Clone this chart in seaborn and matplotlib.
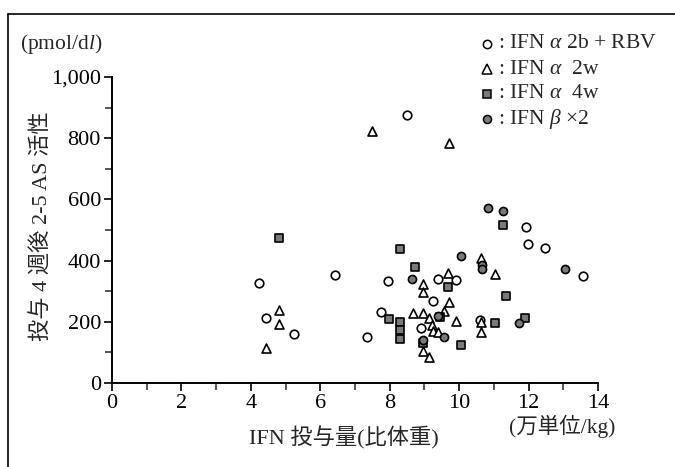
import matplotlib
matplotlib.use("Agg")
import matplotlib.pyplot as plt
import seaborn as sns
import pandas as pd
from matplotlib.lines import Line2D
from matplotlib.ticker import MultipleLocator, FuncFormatter

# ---- data ----
rbv_x = [4.24, 4.44, 5.24, 6.43, 7.36, 7.74, 7.96, 8.49, 8.90, 9.24, 9.40, 9.91, 10.61, 11.93, 11.98, 12.48, 13.58]
rbv_y = [327, 212, 160, 353, 149, 232, 333, 876, 179, 269, 340, 337, 205, 509, 454, 442, 351]

a2w_x = [4.44, 4.81, 4.81, 7.50, 8.66, 8.95, 8.95, 8.95, 8.95, 9.12, 9.14, 9.21, 9.24, 9.40, 9.57,
         9.69, 9.70, 9.72, 9.90, 10.62, 10.62, 10.62, 11.02]
a2w_y = [114, 239, 193, 824, 230, 324, 298, 230, 106, 84, 211, 190, 171, 168, 236,
         358, 785, 266, 204, 410, 198, 168, 357]

a4w_x = [4.81, 7.99, 8.29, 8.30, 8.30, 8.30, 8.73, 8.97, 9.45, 9.69, 10.05, 11.04, 11.25, 11.35, 11.90]
a4w_y = [474, 208, 437, 200, 173, 144, 378, 132, 215, 315, 124, 197, 516, 285, 213]

b2_x = [8.64, 8.97, 9.40, 9.57, 10.04, 10.65, 10.65, 10.82, 11.25, 11.73, 13.05]
b2_y = [339, 140, 219, 151, 416, 386, 373, 571, 563, 197, 371]

legend_labels = [r" : IFN $\mathit{α}$ 2b + RBV", r" : IFN $\mathit{α}$  2w",
                 r" : IFN $\mathit{α}$  4w", r" : IFN $\mathit{β}$ ×2"]
x_ticks = [0, 2, 4, 6, 8, 10, 12, 14]
y_ticks = [0, 200, 400, 600, 800, 1000]

sns.set_theme(style="white")
plt.rcParams["font.family"] = ["Liberation Serif", "Noto Sans CJK JP", "DejaVu Sans"]
plt.rcParams["mathtext.fontset"] = "custom"
plt.rcParams["mathtext.rm"] = "Liberation Serif"
plt.rcParams["mathtext.it"] = "Liberation Serif:italic"

fig = plt.figure(figsize=(6.75, 4.67), dpi=100)
fig.patch.set_facecolor("white")
ax = fig.add_axes([112 / 675, 1 - 383 / 467, 486 / 675, 306 / 467])

series = [
    (rbv_x, rbv_y, "o", "white", 38),
    (a2w_x, a2w_y, "^", "white", 42),
    (a4w_x, a4w_y, "s", "#7a7a7a", 30),
    (b2_x, b2_y, "o", "#7a7a7a", 34),
]
for xs, ys, mk, fc, s in series:
    df = pd.DataFrame({"x": xs, "y": ys})
    sns.scatterplot(data=df, x="x", y="y", marker=mk, s=s, color=fc,
                    edgecolor="black", linewidth=1.2, ax=ax, zorder=3, clip_on=False)

ax.set_xlim(0, 14)
ax.set_ylim(0, 1000)
ax.set_xticks(x_ticks)
ax.set_yticks(y_ticks)
ax.xaxis.set_minor_locator(MultipleLocator(1))
ax.yaxis.set_minor_locator(MultipleLocator(100))
ax.yaxis.set_major_formatter(FuncFormatter(lambda v, p: f"{int(v):,}"))
ax.tick_params(axis="both", which="major", direction="out", length=6, width=1.2,
               labelsize=16, colors="black", pad=2, left=True, bottom=True)
ax.tick_params(axis="both", which="minor", direction="out", length=5, width=1.1,
               left=True, bottom=True)
ax.set_xlabel("")
ax.set_ylabel("")
for side in ["top", "right"]:
    ax.spines[side].set_visible(False)
for side in ["left", "bottom"]:
    ax.spines[side].set_color("black")
    ax.spines[side].set_linewidth(1.4)
ax.set_facecolor("white")

# axis titles
fig.text(20 / 675, 1 - 44 / 467, r"(pmol/d$\it{l}$)", fontsize=15.5, va="center", ha="left")
fig.text(42 / 675, 1 - 226 / 467, "投与 4 週後 2-5 AS 活性", fontsize=16, rotation=90,
         va="center", ha="center")
fig.text(344 / 675, 1 - 438 / 467, "IFN 投与量(比体重)", fontsize=16, va="center", ha="center")
fig.text(562 / 675, 1 - 426 / 467, "(万単位/kg)", fontsize=15.5, va="center", ha="center")

# legend drawn manually
leg_y = [44, 69, 94, 119]
leg_style = [("o", "white", 6.0), ("^", "white", 6.5), ("s", "#7a7a7a", 5.2), ("o", "#7a7a7a", 5.8)]
for yy, lab, (mk, fc, ms) in zip(leg_y, legend_labels, leg_style):
    fig.add_artist(Line2D([487 / 675], [1 - yy / 467], marker=mk, markersize=ms,
                          markerfacecolor=fc, markeredgecolor="black", markeredgewidth=1.1,
                          linestyle="none", transform=fig.transFigure))
    fig.text(493 / 675, 1 - yy / 467, lab, fontsize=15.5, va="center", ha="left")

# frame lines (top and left)
fig.add_artist(Line2D([8 / 675, 1.0], [1 - 14 / 467, 1 - 14 / 467], color="black",
                      linewidth=1.2, transform=fig.transFigure))
fig.add_artist(Line2D([8 / 675, 8 / 675], [0, 1 - 14 / 467], color="black",
                      linewidth=1.2, transform=fig.transFigure))

fig.savefig("out.png", dpi=100, facecolor="white")
